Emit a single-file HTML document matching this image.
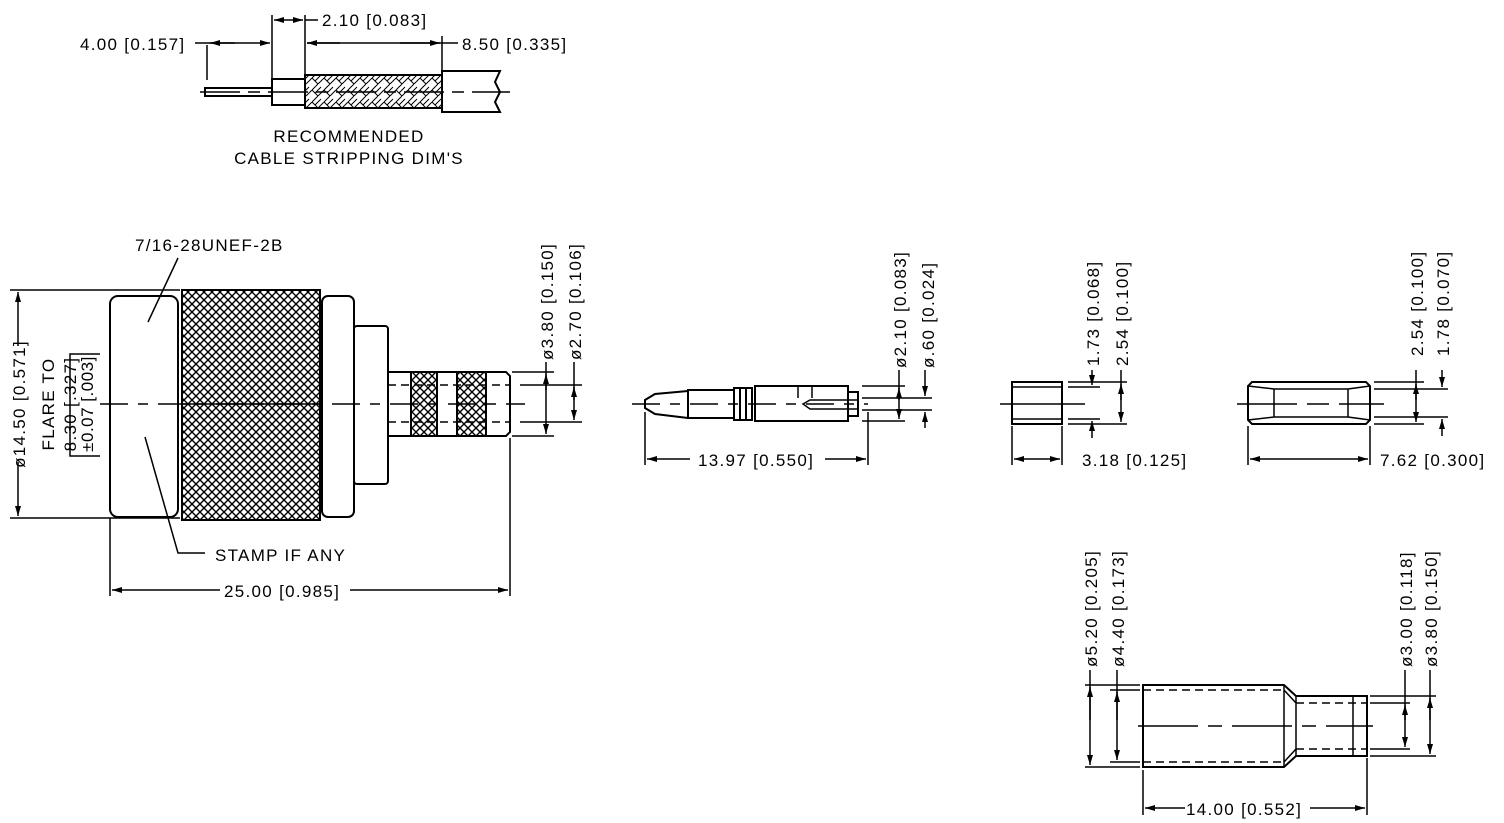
<!DOCTYPE html>
<html><head><style>html,body{margin:0;padding:0;background:#fff}svg{display:block}text{font-family:"Liberation Sans",sans-serif;font-size:17px;letter-spacing:1.3px;fill:#000}</style></head><body>
<svg width="1504" height="823" viewBox="0 0 1504 823" xmlns="http://www.w3.org/2000/svg">
<defs>
<pattern id="kn" width="8" height="8" patternUnits="userSpaceOnUse"><path d="M-1,-1L9,9M9,-1L-1,9" stroke="#000" stroke-width="1.4"/></pattern>
<pattern id="br" width="12" height="12" patternUnits="userSpaceOnUse"><path d="M0,6L6,0M3,9L9,3M6,12L12,6M0,6L6,12" stroke="#000" stroke-width="1"/></pattern>
<marker id="a" viewBox="0 0 10 6" refX="10" refY="3" markerWidth="10" markerHeight="6" orient="auto-start-reverse" markerUnits="userSpaceOnUse"><path d="M0,0L10,3L0,6z"/></marker>
</defs>
<g stroke="#000" stroke-width="2" fill="none">
<line x1="200" y1="92" x2="510" y2="92" stroke-width="1.5" stroke-dasharray="40,8,12,8"/>
<rect x="205" y="88" width="67" height="8"/>
<rect x="272" y="79" width="33" height="26"/>
<rect x="305" y="75" width="137" height="33" fill="url(#br)"/>
<path d="M442,71H500L495,82L500,92L495,102L500,112H442z"/>
<line x1="207" y1="45" x2="207" y2="80" stroke-width="1.5"/>
<line x1="272" y1="15" x2="272" y2="80" stroke-width="1.5"/>
<line x1="305" y1="15" x2="305" y2="75" stroke-width="1.5"/>
<line x1="442" y1="36" x2="442" y2="70" stroke-width="1.5"/>
<line x1="195" y1="43" x2="270" y2="43" stroke-width="1.5" marker-end="url(#a)"/>
<line x1="210" y1="43" x2="235" y2="43" stroke-width="1.5" marker-start="url(#a)"/>
<line x1="274" y1="20" x2="303" y2="20" stroke-width="1.5" marker-start="url(#a)" marker-end="url(#a)"/>
<line x1="305" y1="20" x2="318" y2="20" stroke-width="1.5"/>
<line x1="307" y1="43" x2="458" y2="43" stroke-width="1.5"/>
<line x1="307" y1="43" x2="340" y2="43" stroke-width="1.5" marker-start="url(#a)"/>
<line x1="400" y1="43" x2="440" y2="43" stroke-width="1.5" marker-end="url(#a)"/>
<rect x="110" y="296" width="68" height="221" rx="8"/>
<rect x="182" y="290" width="138" height="230" fill="url(#kn)"/>
<rect x="322" y="296" width="32" height="221" rx="6"/>
<rect x="354" y="326" width="34" height="158" rx="3"/>
<path d="M388,372H506L510,376V432L506,436H388z"/>
<line x1="388" y1="385" x2="510" y2="385" stroke-width="1.5" stroke-dasharray="8,5"/>
<line x1="388" y1="422" x2="510" y2="422" stroke-width="1.5" stroke-dasharray="8,5"/>
<rect x="411" y="372" width="26" height="64" fill="url(#kn)"/>
<rect x="457" y="372" width="29" height="64" fill="url(#kn)"/>
<line x1="100" y1="404" x2="525" y2="404" stroke-width="1.5" stroke-dasharray="28,10,10,10"/>
<line x1="182" y1="404" x2="320" y2="404" stroke-width="1.5"/>
<line x1="10" y1="290" x2="180" y2="290" stroke-width="1.5"/>
<line x1="10" y1="518" x2="180" y2="518" stroke-width="1.5"/>
<line x1="18" y1="292" x2="18" y2="346" stroke-width="1.5" marker-start="url(#a)"/>
<line x1="18" y1="462" x2="18" y2="516" stroke-width="1.5" marker-end="url(#a)"/>
<path d="M100,354H70V456H100" stroke-width="1.5"/>
<line x1="178" y1="258" x2="148" y2="322" stroke-width="1.5"/>
<path d="M145,437L178,553H205" stroke-width="1.5"/>
<line x1="110" y1="518" x2="110" y2="596" stroke-width="1.5"/>
<line x1="510" y1="438" x2="510" y2="596" stroke-width="1.5"/>
<line x1="112" y1="590" x2="220" y2="590" stroke-width="1.5" marker-start="url(#a)"/>
<line x1="350" y1="590" x2="508" y2="590" stroke-width="1.5" marker-end="url(#a)"/>
<line x1="512" y1="372" x2="554" y2="372" stroke-width="1.5"/>
<line x1="512" y1="436" x2="554" y2="436" stroke-width="1.5"/>
<line x1="520" y1="385" x2="582" y2="385" stroke-width="1.5"/>
<line x1="520" y1="422" x2="582" y2="422" stroke-width="1.5"/>
<line x1="546" y1="362" x2="546" y2="434" stroke-width="1.5" marker-end="url(#a)"/>
<line x1="546" y1="390" x2="546" y2="374" stroke-width="1.5" marker-end="url(#a)"/>
<line x1="574" y1="362" x2="574" y2="420" stroke-width="1.5" marker-end="url(#a)"/>
<line x1="574" y1="400" x2="574" y2="387" stroke-width="1.5" marker-end="url(#a)"/>
<line x1="632" y1="404" x2="868" y2="404" stroke-width="1.5" stroke-dasharray="28,10,10,10"/>
<path d="M688,391L655,394L645,400V408L655,414L688,418z"/>
<rect x="688" y="390" width="46" height="28"/>
<path d="M734,388H752V420H734z M740,388V420 M746,388V420"/>
<rect x="755" y="386" width="93" height="35"/>
<path d="M848,392H858V416H848"/>
<path d="M803,404L810,400H858V409H810z" stroke-width="1.5"/>
<path d="M798,386V398 M812,386V398" stroke-width="1.5"/>
<line x1="645" y1="412" x2="645" y2="465" stroke-width="1.5"/>
<line x1="868" y1="412" x2="868" y2="465" stroke-width="1.5"/>
<line x1="647" y1="459" x2="690" y2="459" stroke-width="1.5" marker-start="url(#a)"/>
<line x1="825" y1="459" x2="866" y2="459" stroke-width="1.5" marker-end="url(#a)"/>
<line x1="862" y1="386" x2="905" y2="386" stroke-width="1.5"/>
<line x1="862" y1="421" x2="905" y2="421" stroke-width="1.5"/>
<line x1="862" y1="398" x2="932" y2="398" stroke-width="1.5"/>
<line x1="862" y1="410" x2="932" y2="410" stroke-width="1.5"/>
<line x1="899" y1="370" x2="899" y2="419" stroke-width="1.5" marker-end="url(#a)"/>
<line x1="899" y1="400" x2="899" y2="388" stroke-width="1.5" marker-end="url(#a)"/>
<line x1="925" y1="370" x2="925" y2="396" stroke-width="1.5" marker-end="url(#a)"/>
<line x1="925" y1="428" x2="925" y2="412" stroke-width="1.5" marker-end="url(#a)"/>
<line x1="1000" y1="404" x2="1085" y2="404" stroke-width="1.5"/>
<rect x="1012" y="382" width="50" height="42"/>
<line x1="1012" y1="387" x2="1062" y2="387" stroke-width="1.5"/>
<line x1="1012" y1="419" x2="1062" y2="419" stroke-width="1.5"/>
<line x1="1068" y1="382" x2="1127" y2="382" stroke-width="1.5"/>
<line x1="1068" y1="424" x2="1127" y2="424" stroke-width="1.5"/>
<line x1="1068" y1="387" x2="1100" y2="387" stroke-width="1.5"/>
<line x1="1068" y1="419" x2="1100" y2="419" stroke-width="1.5"/>
<line x1="1121" y1="370" x2="1121" y2="422" stroke-width="1.5" marker-end="url(#a)"/>
<line x1="1121" y1="400" x2="1121" y2="384" stroke-width="1.5" marker-end="url(#a)"/>
<line x1="1092" y1="370" x2="1092" y2="385" stroke-width="1.5" marker-end="url(#a)"/>
<line x1="1092" y1="438" x2="1092" y2="421" stroke-width="1.5" marker-end="url(#a)"/>
<line x1="1012" y1="426" x2="1012" y2="465" stroke-width="1.5"/>
<line x1="1062" y1="426" x2="1062" y2="465" stroke-width="1.5"/>
<line x1="1014" y1="459" x2="1060" y2="459" stroke-width="1.5" marker-start="url(#a)" marker-end="url(#a)"/>
<line x1="1237" y1="404" x2="1384" y2="404" stroke-width="1.5" stroke-dasharray="60,10,22,10"/>
<path d="M1252,382H1366L1370,386V420L1366,424H1252L1248,420V386z"/>
<path d="M1248,386L1274,389H1348L1370,386 M1248,420L1274,417H1348L1370,420 M1274,389V417 M1348,389V417" stroke-width="1.5"/>
<line x1="1374" y1="382" x2="1424" y2="382" stroke-width="1.5"/>
<line x1="1374" y1="424" x2="1424" y2="424" stroke-width="1.5"/>
<line x1="1374" y1="389" x2="1448" y2="389" stroke-width="1.5"/>
<line x1="1374" y1="417" x2="1448" y2="417" stroke-width="1.5"/>
<line x1="1416" y1="370" x2="1416" y2="422" stroke-width="1.5" marker-end="url(#a)"/>
<line x1="1416" y1="400" x2="1416" y2="384" stroke-width="1.5" marker-end="url(#a)"/>
<line x1="1442" y1="370" x2="1442" y2="387" stroke-width="1.5" marker-end="url(#a)"/>
<line x1="1442" y1="436" x2="1442" y2="419" stroke-width="1.5" marker-end="url(#a)"/>
<line x1="1248" y1="426" x2="1248" y2="465" stroke-width="1.5"/>
<line x1="1370" y1="426" x2="1370" y2="465" stroke-width="1.5"/>
<line x1="1250" y1="459" x2="1368" y2="459" stroke-width="1.5" marker-start="url(#a)" marker-end="url(#a)"/>
<line x1="1138" y1="726" x2="1373" y2="726" stroke-width="1.5" stroke-dasharray="60,10,14,10"/>
<path d="M1143,685H1284L1296,696H1367V756H1296L1284,767H1143z"/>
<path d="M1284,685V767 M1296,696V756 M1353,696V756 M1284,690L1296,703 M1284,762L1296,749" stroke-width="1.5"/>
<line x1="1143" y1="690" x2="1284" y2="690" stroke-width="1.5" stroke-dasharray="8,5"/>
<line x1="1143" y1="762" x2="1284" y2="762" stroke-width="1.5" stroke-dasharray="8,5"/>
<line x1="1296" y1="703" x2="1367" y2="703" stroke-width="1.5" stroke-dasharray="8,5"/>
<line x1="1296" y1="749" x2="1367" y2="749" stroke-width="1.5" stroke-dasharray="8,5"/>
<line x1="1085" y1="685" x2="1140" y2="685" stroke-width="1.5"/>
<line x1="1085" y1="767" x2="1140" y2="767" stroke-width="1.5"/>
<line x1="1110" y1="690" x2="1140" y2="690" stroke-width="1.5"/>
<line x1="1110" y1="762" x2="1140" y2="762" stroke-width="1.5"/>
<line x1="1090" y1="670" x2="1090" y2="765" stroke-width="1.5" marker-end="url(#a)"/>
<line x1="1090" y1="720" x2="1090" y2="687" stroke-width="1.5" marker-end="url(#a)"/>
<line x1="1117" y1="670" x2="1117" y2="760" stroke-width="1.5" marker-end="url(#a)"/>
<line x1="1117" y1="720" x2="1117" y2="692" stroke-width="1.5" marker-end="url(#a)"/>
<line x1="1370" y1="696" x2="1436" y2="696" stroke-width="1.5"/>
<line x1="1370" y1="756" x2="1436" y2="756" stroke-width="1.5"/>
<line x1="1370" y1="703" x2="1410" y2="703" stroke-width="1.5"/>
<line x1="1370" y1="749" x2="1410" y2="749" stroke-width="1.5"/>
<line x1="1405" y1="670" x2="1405" y2="747" stroke-width="1.5" marker-end="url(#a)"/>
<line x1="1405" y1="720" x2="1405" y2="705" stroke-width="1.5" marker-end="url(#a)"/>
<line x1="1430" y1="670" x2="1430" y2="754" stroke-width="1.5" marker-end="url(#a)"/>
<line x1="1430" y1="720" x2="1430" y2="698" stroke-width="1.5" marker-end="url(#a)"/>
<line x1="1143" y1="770" x2="1143" y2="815" stroke-width="1.5"/>
<line x1="1367" y1="758" x2="1367" y2="815" stroke-width="1.5"/>
<line x1="1145" y1="808" x2="1185" y2="808" stroke-width="1.5" marker-start="url(#a)"/>
<line x1="1310" y1="808" x2="1365" y2="808" stroke-width="1.5" marker-end="url(#a)"/>
</g>
<g>
<text x="80" y="50">4.00 [0.157]</text>
<text x="322" y="26">2.10 [0.083]</text>
<text x="462" y="50">8.50 [0.335]</text>
<text x="349" y="142" text-anchor="middle" font-size="15">RECOMMENDED</text>
<text x="349" y="164" text-anchor="middle" font-size="15">CABLE STRIPPING DIM'S</text>
<text x="135" y="251">7/16-28UNEF-2B</text>
<text x="215" y="561">STAMP IF ANY</text>
<text x="224" y="597">25.00 [0.985]</text>
<text transform="translate(25,404) rotate(-90)" text-anchor="middle">ø14.50 [0.571]</text>
<text transform="translate(54,404) rotate(-90)" text-anchor="middle">FLARE TO</text>
<text transform="translate(76,404) rotate(-90)" text-anchor="middle">8.30 [.327]</text>
<text transform="translate(93,404) rotate(-90)" text-anchor="middle" font-size="12" style="letter-spacing:0.5px">±0.07 [.003]</text>
<text transform="translate(553,360) rotate(-90)">ø3.80 [0.150]</text>
<text transform="translate(581,360) rotate(-90)">ø2.70 [0.106]</text>
<text x="698" y="466">13.97 [0.550]</text>
<text transform="translate(906,368) rotate(-90)">ø2.10 [0.083]</text>
<text transform="translate(934,368) rotate(-90)">ø.60 [0.024]</text>
<text transform="translate(1099,366) rotate(-90)">1.73 [0.068]</text>
<text transform="translate(1128,366) rotate(-90)">2.54 [0.100]</text>
<text x="1082" y="466">3.18 [0.125]</text>
<text transform="translate(1423,356) rotate(-90)">2.54 [0.100]</text>
<text transform="translate(1449,356) rotate(-90)">1.78 [0.070]</text>
<text x="1380" y="466">7.62 [0.300]</text>
<text transform="translate(1097,667) rotate(-90)">ø5.20 [0.205]</text>
<text transform="translate(1124,667) rotate(-90)">ø4.40 [0.173]</text>
<text transform="translate(1412,667) rotate(-90)">ø3.00 [0.118]</text>
<text transform="translate(1437,667) rotate(-90)">ø3.80 [0.150]</text>
<text x="1186" y="815">14.00 [0.552]</text>
</g>
</svg>
</body></html>
